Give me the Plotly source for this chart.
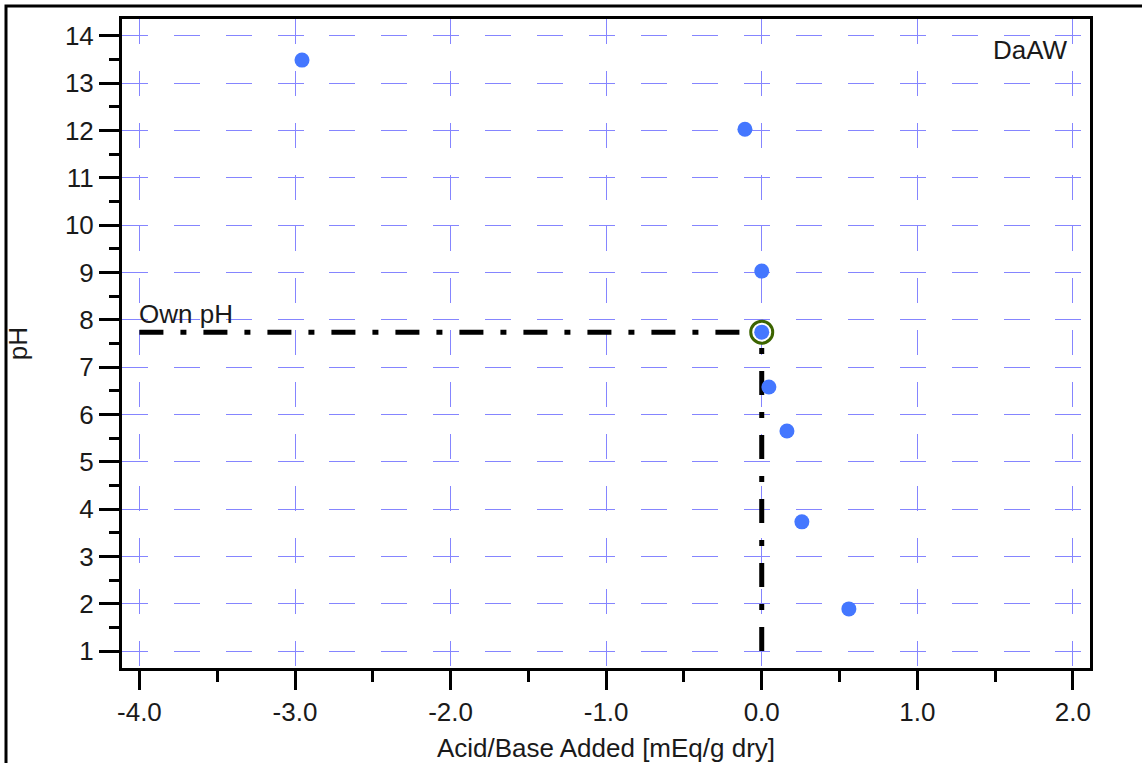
import plotly.graph_objects as go

# ---- data ----
acid_base = [-2.955, -0.108, 0.0, 0.0, 0.046, 0.162, 0.258, 0.56]
ph_values = [13.49, 12.03, 9.03, 7.74, 6.58, 5.65, 3.73, 1.89]
own_ph_x = [0.0]
own_ph_y = [7.74]
guide_h_x = [-4.0, 0.0]
guide_v_y = [1.0, 7.74]
x_tickvals = [-4, -3, -2, -1, 0, 1, 2]
x_ticktext = ["-4.0", "-3.0", "-2.0", "-1.0", "0.0", "1.0", "2.0"]
y_tickvals = list(range(1, 15))
sample_name = "DaAW"

FONT = "Liberation Sans, Arial, sans-serif"
FS = 26
TXT = "#1a1a1a"
W, H = 1142, 763
ML, MR, MT, MB = 122, 52, 19, 95

fig = go.Figure()

# dash-dot guide lines (own pH)
fig.add_trace(go.Scatter(
    x=guide_h_x, y=[own_ph_y[0]] * len(guide_h_x), mode="lines",
    line=dict(color="black", width=5, dash="24px,17px,6px,17px"),
    hoverinfo="skip", showlegend=False))
fig.add_trace(go.Scatter(
    x=[own_ph_x[0]] * len(guide_v_y), y=guide_v_y, mode="lines",
    line=dict(color="black", width=5, dash="24px,17px,6px,17px"),
    hoverinfo="skip", showlegend=False))

# own pH ring
fig.add_trace(go.Scatter(
    x=own_ph_x, y=own_ph_y, mode="markers",
    marker=dict(size=22, color="white", line=dict(color="#3C6400", width=3)),
    showlegend=False))

# titration points
fig.add_trace(go.Scatter(
    x=acid_base, y=ph_values, mode="markers",
    marker=dict(size=15, color="#4477FF", line=dict(width=0)),
    showlegend=False))

# annotations
fig.add_annotation(x=guide_h_x[0], y=own_ph_y[0], xref="x", yref="y",
                   text="Own pH", showarrow=False, xanchor="left", yanchor="bottom",
                   xshift=-2, yshift=1,
                   font=dict(family=FONT, size=FS, color=TXT))
fig.add_annotation(x=0.979, y=0.952, xref="paper", yref="paper",
                   text=sample_name, showarrow=False, xanchor="right", yanchor="middle",
                   font=dict(family=FONT, size=FS, color=TXT))

# outer frame (partially cropped like the original)
fig.add_shape(type="rect", xref="paper", yref="paper",
              x0=(6 - ML) / (W - ML - MR), x1=1.3,
              y0=-0.4, y1=(H - MB - 6) / (H - MT - MB),
              line=dict(color="black", width=3), fillcolor="rgba(0,0,0,0)",
              layer="below")

grid_color = "#8585FF"
fig.update_xaxes(
    range=[-4.112, 2.110], tickvals=x_tickvals, ticktext=x_ticktext,
    showline=True, linecolor="black", linewidth=3, mirror=True,
    ticks="outside", ticklen=19, tickwidth=3, tickcolor="black",
    showgrid=True, gridcolor=grid_color, gridwidth=1, griddash="25px,26.86px",
    zeroline=False,
    minor=dict(dtick=0.5, tick0=0, ticks="outside", ticklen=11, tickwidth=3,
               tickcolor="black", showgrid=False),
    tickfont=dict(family=FONT, size=FS, color=TXT),
    title=dict(text="Acid/Base Added [mEq/g dry]", standoff=14,
               font=dict(family=FONT, size=FS, color=TXT)),
)
fig.update_yaxes(
    range=[0.641, 14.359], tickvals=y_tickvals,
    showline=True, linecolor="black", linewidth=3, mirror=True,
    ticks="outside", ticklen=20, tickwidth=3, tickcolor="black",
    showgrid=True, gridcolor=grid_color, gridwidth=1, griddash="26px,25.86px",
    zeroline=False,
    minor=dict(dtick=0.5, tick0=0, ticks="outside", ticklen=10, tickwidth=3,
               tickcolor="black", showgrid=False),
    tickfont=dict(family=FONT, size=FS, color=TXT),
    title=dict(text="pH", standoff=30,
               font=dict(family=FONT, size=FS, color=TXT)),
)

fig.update_layout(
    width=W, height=H,
    margin=dict(l=ML, r=MR, t=MT, b=MB, autoexpand=False),
    paper_bgcolor="white", plot_bgcolor="white",
    showlegend=False,
)

fig.write_html("out.html",
               config={"displayModeBar": False},
               post_script="document.body.style.margin='0';document.body.style.overflow='hidden';")
